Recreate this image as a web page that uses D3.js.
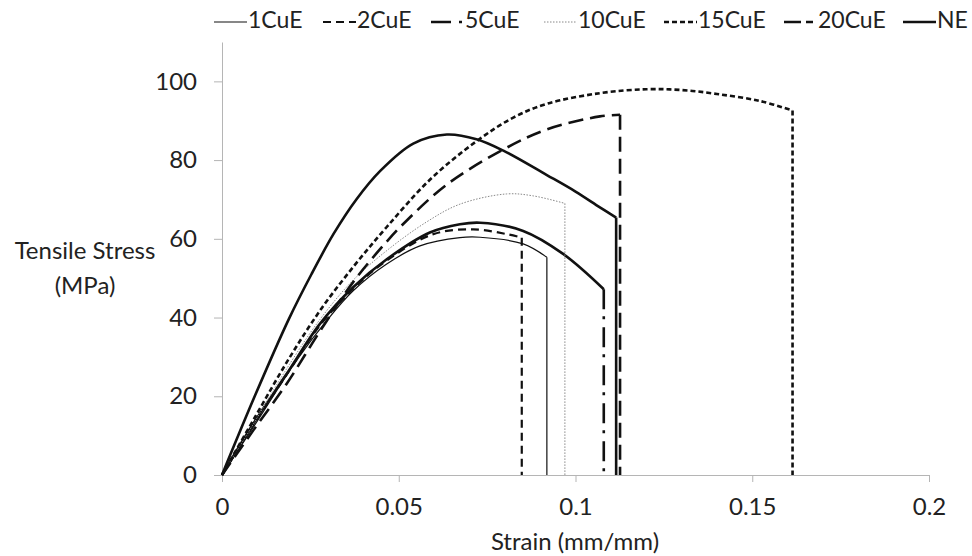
<!DOCTYPE html>
<html>
<head>
<meta charset="utf-8">
<script src="https://cdn.jsdelivr.net/npm/d3@7"></script>
<style>
  html, body { margin: 0; padding: 0; background: #fff; }
  #chart { width: 972px; height: 556px; }
  text { font-family: Lato, "Open Sans", sans-serif; fill: #222; }
</style>
</head>
<body>
<div id="chart"></div>
<script>
// Tensile stress-strain curves
const seriesNames = ["1CuE", "2CuE", "5CuE", "10CuE", "15CuE", "20CuE", "NE"];

const strain1CuE = [0, 0.0089, 0.0211, 0.0296, 0.0371, 0.0466, 0.056, 0.0673, 0.073, 0.0852, 0.0919, 0.0919];
const stress1CuE = [0, 12.2, 29.1, 39.2, 46.8, 53.6, 58.2, 60.3, 60.4, 58.7, 55.3, 0];

const strain2CuE = [0, 0.0089, 0.0183, 0.0277, 0.0371, 0.0466, 0.0598, 0.0711, 0.0805, 0.0848, 0.0848];
const stress2CuE = [0, 12.8, 25.5, 38, 47.3, 54.5, 61.2, 62.4, 61.2, 60.3, 0];

const strain5CuE = [0, 0.0089, 0.0183, 0.0277, 0.0371, 0.0466, 0.0588, 0.0673, 0.073, 0.0852, 0.0966, 0.108, 0.108];
const stress5CuE = [0, 13.1, 25.7, 38.4, 47.7, 54.8, 61.6, 63.7, 64.1, 62, 56.1, 47.2, 0];

const strain10CuE = [0, 0.0089, 0.0183, 0.0277, 0.0371, 0.0466, 0.0579, 0.0673, 0.0805, 0.0881, 0.097, 0.097];
const stress10CuE = [0, 13, 27, 39.5, 49.5, 57, 64.3, 68.8, 71.4, 70.9, 69, 0];

const strain15CuE = [0, 0.0094, 0.0189, 0.0283, 0.0377, 0.0466, 0.0588, 0.072, 0.0824, 0.0919, 0.1069, 0.12, 0.13, 0.14, 0.1522, 0.1614, 0.1614];
const stress15CuE = [0, 14.8, 29.5, 42.5, 53.5, 63, 75, 84.8, 90.8, 94.3, 97, 98, 97.8, 96.8, 95, 92.6, 0];

const strain20CuE = [0, 0.0089, 0.0183, 0.0277, 0.0371, 0.0466, 0.0522, 0.0636, 0.0796, 0.0919, 0.1069, 0.1126, 0.1126];
const stress20CuE = [0, 11.4, 23.2, 36.5, 49, 59.3, 64.6, 73.8, 82.7, 87.8, 91.1, 91.5, 0];

const strainNE = [0, 0.0094, 0.0189, 0.0253, 0.0316, 0.038, 0.0447, 0.0541, 0.0636, 0.072, 0.0796, 0.0919, 0.1, 0.1069, 0.1115, 0.1115];
const stressNE = [0, 20.3, 39.6, 51, 61.3, 70, 77.2, 84.2, 86.5, 85.3, 82.4, 76.2, 72, 68, 65.4, 0];

const xTicks = [0, 0.05, 0.1, 0.15, 0.2];
const yTicks = [0, 20, 40, 60, 80, 100];

const strainBy = {"1CuE": strain1CuE, "2CuE": strain2CuE, "5CuE": strain5CuE, "10CuE": strain10CuE,
                  "15CuE": strain15CuE, "20CuE": strain20CuE, "NE": strainNE};
const stressBy = {"1CuE": stress1CuE, "2CuE": stress2CuE, "5CuE": stress5CuE, "10CuE": stress10CuE,
                  "15CuE": stress15CuE, "20CuE": stress20CuE, "NE": stressNE};

// line look per series (curve part / fracture drop)
const look = {
  "1CuE":  {w: 1.2, color: "#111", dash: null,      drop: null},
  "2CuE":  {w: 2.2, color: "#111", dash: "8,5",     drop: "8,5"},
  "5CuE":  {w: 2.6, color: "#111", dash: null,      drop: "20,7,3,8", legend: "20,8,3,30"},
  "10CuE": {w: 1,   color: "#888", dash: "1.5,1.5", drop: "1.5,1.5"},
  "15CuE": {w: 2.6, color: "#111", dash: "5,3",     drop: "5,3"},
  "20CuE": {w: 2.6, color: "#111", dash: "15,7",    drop: "15,7", legend: "17,5,7,20"},
  "NE":    {w: 2.6, color: "#111", dash: null,      drop: null}
};

const W = 972, H = 556;
const M = {t: 42, r: 43, b: 81, l: 222};
const fs = 24;

const svg = d3.select("#chart").append("svg").attr("width", W).attr("height", H);

const x = d3.scaleLinear().domain([0, 0.2]).range([M.l, W - M.r]);
const y = d3.scaleLinear().domain([0, 110]).range([H - M.b, M.t]);

const axisColor = "#b5b5b5";

// x axis
const gx = svg.append("g").attr("transform", `translate(0,${H - M.b})`)
  .call(d3.axisBottom(x).tickValues(xTicks).tickFormat(d => String(d)).tickSize(7).tickSizeOuter(0).tickPadding(16));
gx.select(".domain").attr("stroke", axisColor);
gx.selectAll(".tick line").attr("stroke", axisColor);
gx.selectAll(".tick text").attr("font-size", fs).attr("font-family", "Lato").attr("fill", "#222");

// y axis
const gy = svg.append("g").attr("transform", `translate(${M.l},0)`)
  .call(d3.axisLeft(y).tickValues(yTicks).tickSize(8).tickSizeOuter(0).tickPadding(17));
gy.select(".domain").attr("stroke", axisColor);
gy.selectAll(".tick line").attr("stroke", axisColor);
gy.selectAll(".tick text").attr("font-size", fs).attr("font-family", "Lato").attr("fill", "#222");

// axis titles
svg.append("text").attr("x", 575).attr("y", 544).attr("text-anchor", "middle")
  .attr("dominant-baseline", "middle").attr("font-size", fs).text("Strain (mm/mm)");
svg.append("text").attr("x", 85).attr("y", 253).attr("text-anchor", "middle")
  .attr("dominant-baseline", "middle").attr("font-size", fs).text("Tensile Stress");
svg.append("text").attr("x", 85).attr("y", 288).attr("text-anchor", "middle")
  .attr("dominant-baseline", "middle").attr("font-size", fs).text("(MPa)");

// curves
const line = d3.line().x(d => x(d[0])).y(d => y(d[1])).curve(d3.curveCatmullRom.alpha(0.5));
const straight = d3.line().x(d => x(d[0])).y(d => y(d[1]));

const plot = svg.append("g");
seriesNames.forEach(name => {
  const pts = strainBy[name].map((s, i) => [s, stressBy[name][i]]);
  const curvePts = pts.slice(0, -1);
  const dropPts = pts.slice(-2);
  const st = look[name];
  plot.append("path").attr("d", line(curvePts))
    .attr("fill", "none").attr("stroke", st.color).attr("stroke-width", st.w)
    .attr("stroke-dasharray", st.dash).attr("stroke-linejoin", "round");
  plot.append("path").attr("d", straight(dropPts))
    .attr("fill", "none").attr("stroke", st.color).attr("stroke-width", st.w)
    .attr("stroke-dasharray", st.drop);
});

// legend across the top
const legendX = [214, 323, 431, 544, 664, 784, 903];
const legend = svg.append("g");
seriesNames.forEach((name, i) => {
  const st = look[name];
  const g = legend.append("g").attr("transform", `translate(${legendX[i]},22)`);
  g.append("line").attr("x1", 0).attr("x2", 33).attr("y1", 0).attr("y2", 0)
    .attr("stroke", st.color).attr("stroke-width", st.w)
    .attr("stroke-dasharray", st.legend || st.dash);
  g.append("text").attr("x", 34).attr("y", 0).attr("dominant-baseline", "middle")
    .attr("font-size", 23).text(name);
});
</script>
</body>
</html>
